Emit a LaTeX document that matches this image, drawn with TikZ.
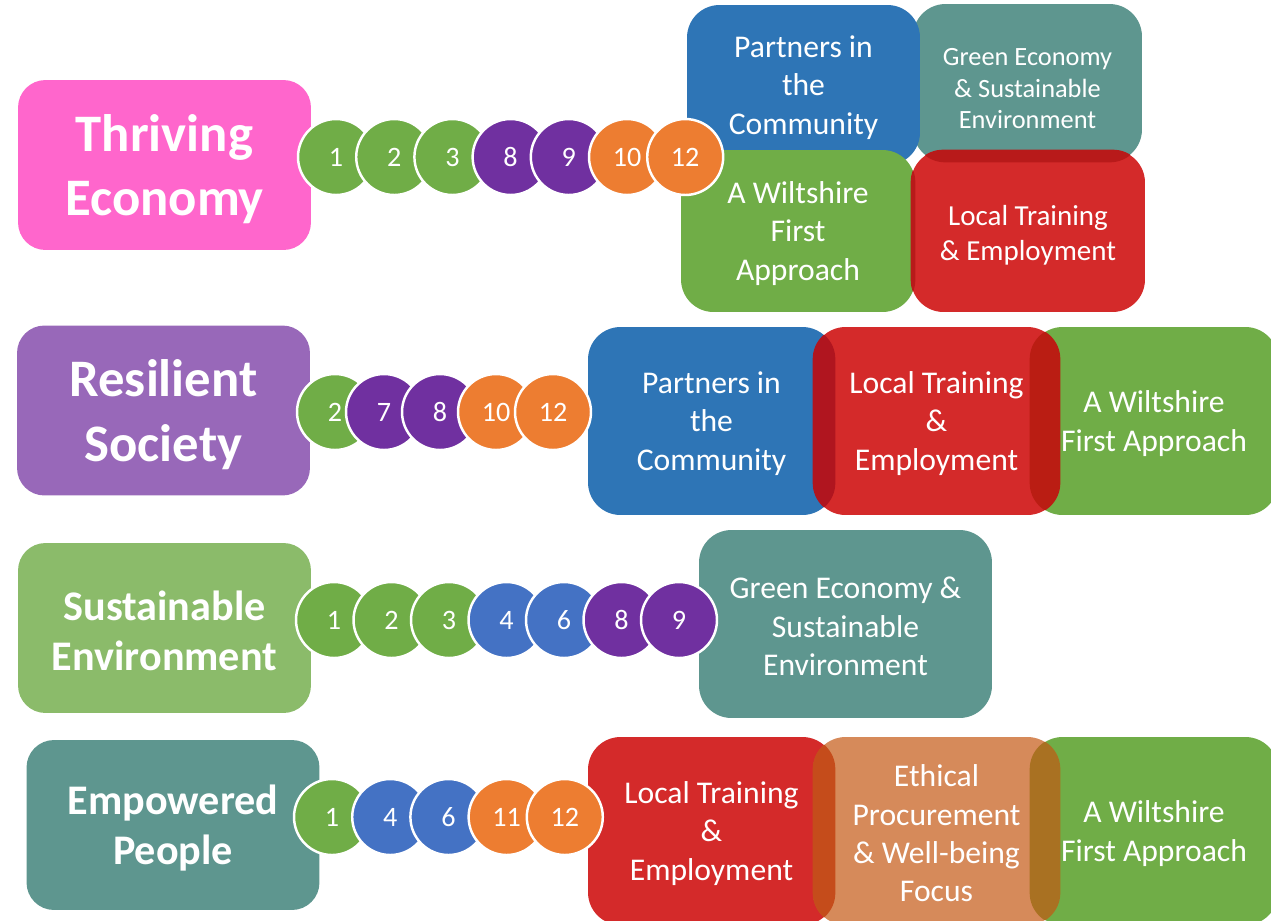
\documentclass[tikz,border=0pt]{standalone}
\usepackage{fontspec}
\setmainfont{Carlito}
\usepackage{tikz}
\usetikzlibrary{positioning}
\definecolor{pinkT}{RGB}{255,102,204}
\definecolor{purpleT}{RGB}{152,104,185}
\definecolor{greenT}{RGB}{139,187,106}
\definecolor{tealC}{RGB}{94,150,143}
\definecolor{blueC}{RGB}{46,117,182}
\definecolor{greenC}{RGB}{112,173,71}
\definecolor{redC}{RGB}{212,42,42}
\definecolor{tanC}{RGB}{214,138,90}
\definecolor{purpleC}{RGB}{112,48,160}
\definecolor{orangeC}{RGB}{237,125,49}
\definecolor{blueN}{RGB}{68,114,196}
\definecolor{ovRedTeal}{RGB}{184,26,26}
\definecolor{ovRedBlue}{RGB}{176,21,31}
\definecolor{ovRedGreen}{RGB}{186,29,19}
\definecolor{ovTanRed}{RGB}{197,76,27}
\definecolor{ovTanGreen}{RGB}{169,113,34}

\begin{document}
\begin{tikzpicture}[x=0.02cm, y=-0.02cm,
  title/.style={rounded corners=0.55cm, minimum width=5.86cm, minimum height=3.4cm,
    text=white, align=center, inner sep=0pt, text depth=0pt},
  bigfont/.style={font=\fontsize{30}{36.5}\selectfont\bfseries},
  midfont/.style={font=\fontsize{24}{28.5}\selectfont\bfseries},
  tile/.style={rounded corners=0.65cm, text=white, align=center, inner sep=0pt,
    text depth=0pt, font=\fontsize{18}{21.8}\selectfont},
  num/.style={circle, draw=white, line width=1.4pt, minimum size=1.52cm, inner sep=0pt,
    text=white, font=\fontsize{16}{18}\selectfont}]
  \useasboundingbox (0,0) rectangle (1271,920);

  % row 1: thriving economy
  \node[title, bigfont, fill=pinkT] (teT) at (164.5,165) {Thriving\\Economy};
  \node[tile, fill=tealC, minimum width=4.58cm, minimum height=3.16cm,
    font=\fontsize{15}{18}\selectfont] (geA) at (1027.5,83) {\rule{0pt}{16pt}Green Economy\\\& Sustainable\\Environment};
  \node[tile, fill=blueC, minimum width=4.66cm, minimum height=3.2cm] (pcA) at (803.5,85) {Partners in\\the\\Community};
  \node[tile, fill=greenC, minimum width=4.68cm, minimum height=3.24cm] (wfA) at (798,231) {A Wiltshire\\First\\Approach};
  \node[tile, fill=redC, minimum width=4.68cm, minimum height=3.24cm,
    font=\fontsize{16.5}{20}\selectfont] (ltA) at (1028,231) {\rule{0pt}{14pt}Local Training\\\& Employment};
  \begin{scope}
    \clip[rounded corners=0.65cm] (geA.south west) rectangle (geA.north east);
    \fill[ovRedTeal, rounded corners=0.65cm] (ltA.south west) rectangle (ltA.north east);
  \end{scope}
  \begin{scope}
    \clip[rounded corners=0.65cm] (wfA.south west) rectangle (wfA.north east);
    \fill[ovRedTeal, rounded corners=0.65cm] (ltA.south west) rectangle (ltA.north east);
  \end{scope}
  \foreach \n/\c [count=\i] in {1/greenC,2/greenC,3/greenC,8/purpleC,9/purpleC,10/orangeC,12/orangeC}
    \node[num, fill=\c] (te\i) at ({336+58.2*(\i-1)},157) {\n};

  % row 2: resilient society
  \node[title, bigfont, fill=purpleT] (rsT) at (163.5,410.5) {Resilient\\Society};
  \node[tile, fill=blueC, minimum width=4.94cm, minimum height=3.76cm] (pcB) at (711.5,421) {Partners in\\the\\Community};
  \node[tile, fill=greenC, minimum width=4.96cm, minimum height=3.76cm] (wfB) at (1154,421) {A Wiltshire\\First Approach};
  \node[tile, fill=redC, minimum width=4.94cm, minimum height=3.76cm] (ltB) at (936.5,421) {Local Training\\\&\\Employment};
  \begin{scope}
    \clip[rounded corners=0.65cm] (pcB.south west) rectangle (pcB.north east);
    \fill[ovRedBlue, rounded corners=0.65cm] (ltB.south west) rectangle (ltB.north east);
  \end{scope}
  \begin{scope}
    \clip[rounded corners=0.65cm] (wfB.south west) rectangle (wfB.north east);
    \fill[ovRedGreen, rounded corners=0.65cm] (ltB.south west) rectangle (ltB.north east);
  \end{scope}
  \foreach \x/\n/\c [count=\i] in {335/2/greenC,384/7/purpleC,440/8/purpleC,496/10/orangeC,553/12/orangeC}
    \node[num, fill=\c] (rs\i) at (\x,412) {\n};

  % row 3: sustainable environment
  \node[title, midfont, fill=greenT] (seT) at (164.5,628) {\rule{0pt}{20pt}Sustainable\\Environment};
  \node[tile, fill=tealC, minimum width=5.86cm, minimum height=3.76cm] (geC) at (845.5,624) {\rule{0pt}{15pt}Green Economy \&\\Sustainable\\Environment};
  \foreach \n/\c [count=\i] in {1/greenC,2/greenC,3/greenC,4/blueN,6/blueN,8/purpleC,9/purpleC}
    \node[num, fill=\c] (se\i) at ({334+57.5*(\i-1)},620) {\n};

  % row 4: empowered people
  \node[title, midfont, fill=tealC] (epT) at (173,825) {Empowered\\People};
  \node[tile, fill=redC, minimum width=4.94cm, minimum height=3.76cm] (ltD) at (711.5,831) {Local Training\\\&\\Employment};
  \node[tile, fill=greenC, minimum width=4.96cm, minimum height=3.76cm] (wfD) at (1154,831) {A Wiltshire\\First Approach};
  \node[tile, fill=tanC, minimum width=4.94cm, minimum height=3.76cm] (epD) at (936.5,831) {\rule{0pt}{15pt}Ethical\\Procurement\\\& Well-being\\Focus};
  \begin{scope}
    \clip[rounded corners=0.65cm] (ltD.south west) rectangle (ltD.north east);
    \fill[ovTanRed, rounded corners=0.65cm] (epD.south west) rectangle (epD.north east);
  \end{scope}
  \begin{scope}
    \clip[rounded corners=0.65cm] (wfD.south west) rectangle (wfD.north east);
    \fill[ovTanGreen, rounded corners=0.65cm] (epD.south west) rectangle (epD.north east);
  \end{scope}
  \foreach \n/\c [count=\i] in {1/greenC,4/blueN,6/blueN,11/orangeC,12/orangeC}
    \node[num, fill=\c] (ep\i) at ({332+58.2*(\i-1)},817) {\n};
\end{tikzpicture}
\end{document}
